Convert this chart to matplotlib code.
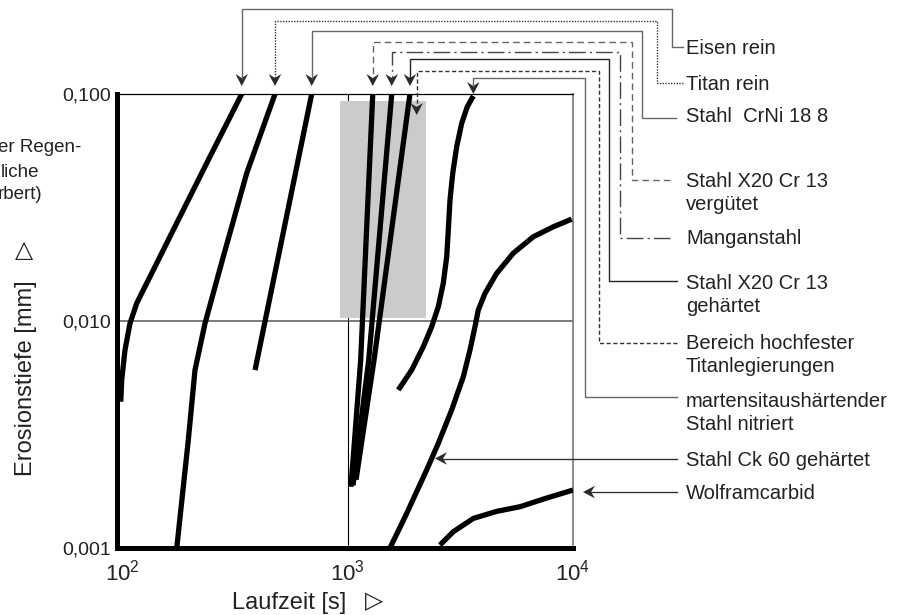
import matplotlib
matplotlib.use("Agg")
import matplotlib.pyplot as plt
from matplotlib.patches import Polygon, Rectangle

plt.rcParams["font.family"] = ["Liberation Sans", "DejaVu Sans"]
plt.rcParams["mathtext.default"] = "regular"

W, H = 899, 615
INK = "#222222"

# Laufzeit [s] / Erosionstiefe [mm] je Werkstoff
eisen_t = [98.7, 99.7, 103.1, 108.5, 116.2, 124.3, 133.1, 168.9, 245.6, 339.6]
eisen_e = [0.00441, 0.0055, 0.00745, 0.00977, 0.01197, 0.0137, 0.01567, 0.0252, 0.0530, 0.100]

titan_t = [174.9, 196.8, 210.7, 233.4, 281.3, 357.3, 477.0]
titan_e = [0.00100, 0.00299, 0.00608, 0.00977, 0.0192, 0.0448, 0.100]

crni_t = [389.0, 693.7]
crni_e = [0.00608, 0.100]

x20v_t = [1036, 1144, 1294]
x20v_e = [0.00186, 0.00673, 0.100]

mangan_t = [1058, 1242, 1571]
mangan_e = [0.00189, 0.00673, 0.100]

x20h_t = [1091, 1311, 1892]
x20h_e = [0.00200, 0.00673, 0.100]

marts_t = [1680, 1926, 2168, 2362, 2527, 2659, 2754, 2799, 2848, 2928, 3050, 3209, 3398, 3614]
marts_e = [0.00497, 0.00608, 0.00770, 0.00944, 0.01156, 0.01466, 0.0192, 0.0252,
           0.0341, 0.0447, 0.0586, 0.0743, 0.0879, 0.0980]

ck60_t = [1543, 1830, 2245, 2527, 2898, 3262, 3493, 3676, 3802, 4072, 4587, 5436, 6668, 8178, 9867]
ck60_e = [0.00100, 0.00142, 0.00221, 0.00289, 0.00406, 0.00568, 0.00745, 0.00944,
          0.01118, 0.01324, 0.01622, 0.0199, 0.0235, 0.0260, 0.0281]

wc_t = [2570, 2946, 3614, 4587, 5821, 7644, 10000]
wc_e = [0.00103, 0.00118, 0.00135, 0.00145, 0.00152, 0.00166, 0.00180]

# Bereich hochfester Titanlegierungen
ti_bereich_t = (926, 2228)
ti_bereich_e = (0.01034, 0.0931)

fig = plt.figure(figsize=(W / 100, H / 100), dpi=100)
ax = fig.add_axes([117.5 / W, 1 - 548 / H, 455.5 / W, 454 / H])
ax.set_xscale("log")
ax.set_yscale("log")
ax.set_xlim(95.5, 1e4)
ax.set_ylim(1e-3, 1e-1)

ax.add_patch(Rectangle((ti_bereich_t[0], ti_bereich_e[0]),
                       ti_bereich_t[1] - ti_bereich_t[0],
                       ti_bereich_e[1] - ti_bereich_e[0],
                       facecolor="#cbcbcb", edgecolor="none", zorder=2))
ax.axvline(1000, color="black", lw=0.8, zorder=1)
ax.axhline(0.01, color="#555555", lw=1.1, zorder=1)

curves = [
    (eisen_t, eisen_e), (titan_t, titan_e), (crni_t, crni_e),
    (x20v_t, x20v_e), (mangan_t, mangan_e), (x20h_t, x20h_e),
    (marts_t, marts_e), (ck60_t, ck60_e), (wc_t, wc_e),
]
for t, e in curves:
    ax.plot(t, e, color="black", lw=3.8, solid_capstyle="butt",
            solid_joinstyle="round", zorder=3)

ax.spines["left"].set_linewidth(3.6)
ax.spines["bottom"].set_linewidth(3.6)
ax.spines["top"].set_linewidth(0.9)
ax.spines["right"].set_linewidth(1.2)
ax.spines["right"].set_color("#777777")

ax.set_xticks([100, 1000, 10000])
ax.set_xticklabels([r"$10^{2}$", r"$10^{3}$", r"$10^{4}$"])
ax.set_yticks([0.001, 0.01, 0.1])
ax.set_yticklabels(["0,001", "0,010", "0,100"])
ax.minorticks_off()
ax.tick_params(axis="x", length=0, pad=8, labelsize=16, labelcolor=INK)
ax.tick_params(axis="y", length=0, pad=5, labelsize=14, labelcolor=INK)

# overlay in pixel coordinates for labels and leader lines
ov = fig.add_axes([0, 0, 1, 1], zorder=5)
ov.set_xlim(0, W)
ov.set_ylim(H, 0)
ov.axis("off")
ov.patch.set_alpha(0)


def to_px(x, y):
    dx, dy = ax.transData.transform((x, y))
    return dx, H - dy


def head_down(x, y, col):
    ov.add_patch(Polygon([(x, y), (x - 6.3, y - 12), (x, y - 8), (x + 6.3, y - 12)],
                         closed=True, facecolor=col, edgecolor="none"))


def head_left(x, y, col):
    ov.add_patch(Polygon([(x, y), (x + 12, y - 6.3), (x + 8, y), (x + 12, y + 6.3)],
                         closed=True, facecolor=col, edgecolor="none"))


solid = "-"
dotted = (0, (1, 1))
dashed = (0, (4.8, 2.9))
dashdot = (0, (12, 3, 1.5, 3))
finedash = (0, (3, 1.8))

# lines, text y, lead y, lead end, vertical x, top y, tip x, tip y, style, colour
leaders = [
    (["Eisen rein"], 46.7, 46.7, 683, 671.7, 9.3, to_px(eisen_t[-1], eisen_e[-1])[0], 86, solid, "#666666"),
    (["Titan rein"], 82.5, 83.3, 683, 657.3, 20.7, to_px(titan_t[-1], titan_e[-1])[0], 86, dotted, "#333333"),
    (["Stahl  CrNi 18 8"], 115, 117.5, 676, 641.7, 31.0, to_px(crni_t[-1], crni_e[-1])[0], 86, solid, "#666666"),
    (["Stahl X20 Cr 13", "vergütet"], 180, 180, 670, 631.7, 41.7, to_px(x20v_t[-1], x20v_e[-1])[0], 86, dashed, "#666666"),
    (["Manganstahl"], 237, 238.3, 670, 620, 51.7, to_px(mangan_t[-1], mangan_e[-1])[0], 86, dashdot, "#444444"),
    (["Stahl X20 Cr 13", "gehärtet"], 281.7, 280.7, 677, 609.3, 59.3, to_px(x20h_t[-1], x20h_e[-1])[0], 86, solid, "#222222"),
    (["Bereich hochfester", "Titanlegierungen"], 341.7, 343.3, 677, 599.3, 70.7, 416.7, 115, finedash, "#333333"),
    (["martensitaushärtender", "Stahl nitriert"], 400, 396.7, 677, 585, 78.3, to_px(marts_t[-1], marts_e[-1])[0], 94, solid, "#666666"),
]

for lines, ty, ly, lx, vx, top, tx, tip, ls, col in leaders:
    ov.plot([lx, vx, vx, tx, tx], [ly, ly, top, top, tip - 8],
            color=col, lw=1.0, linestyle=ls, solid_joinstyle="miter")
    head_down(tx, tip, "#2a2a2a")
    for i, s in enumerate(lines):
        ov.text(686, ty + 7 + 23 * i, s, fontsize=14.5, color=INK, ha="left", va="baseline")

# horizontal pointers
wc_x, wc_y = to_px(wc_t[-1], wc_e[-1])
for label, tx, y in [("Stahl Ck 60 gehärtet", 435, 458.5),
                     ("Wolframcarbid", wc_x + 10, wc_y + 2)]:
    ov.plot([677, tx + 8], [y, y], color="#333333", lw=1.0)
    head_left(tx, y, "#2a2a2a")
    ov.text(686, y + 7, label, fontsize=14.5, color=INK, ha="left", va="baseline")

# axis titles
ov.text(289, 609, "Laufzeit [s]", fontsize=17, color=INK, ha="center", va="baseline")
ov.text(374, 601, "▷", fontsize=17, color=INK, ha="center", va="center",
        family=["DejaVu Sans"])
ov.text(26, 378, "Erosionstiefe [mm]", fontsize=17, color=INK, rotation=90,
        ha="center", va="center")
ov.text(24, 250, "△", fontsize=17, color=INK, ha="center", va="center",
        family=["DejaVu Sans"])

# caption fragments running in from the left margin
for s, x, y in [("er Regen-", -2, 152), ("liche", 1, 177), ("rbert)", -2, 199)]:
    ov.text(x, y, s, fontsize=13.5, color=INK, ha="left", va="baseline")

fig.savefig("out.png", dpi=100)
